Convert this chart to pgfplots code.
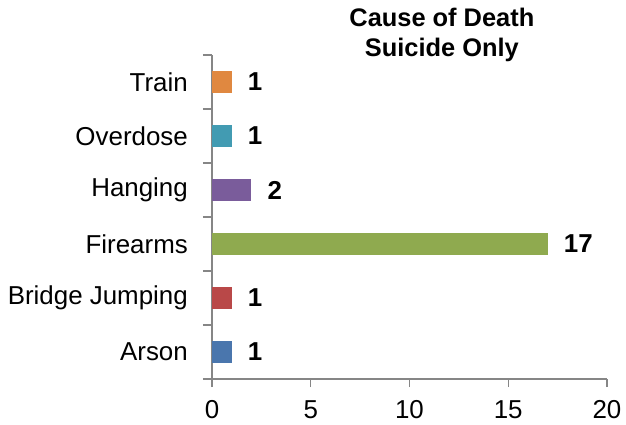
\documentclass[border=0pt]{standalone}
\usepackage{pgfplots}
\pgfplotsset{compat=1.18}
\usepackage{fontspec}
\setmainfont{Liberation Sans}

\definecolor{cArson}{RGB}{74,118,173}
\definecolor{cBridge}{RGB}{185,72,72}
\definecolor{cFire}{RGB}{143,170,79}
\definecolor{cHang}{RGB}{122,92,155}
\definecolor{cOver}{RGB}{66,155,178}
\definecolor{cTrain}{RGB}{224,136,64}
\definecolor{axisgray}{RGB}{134,134,134}

\begin{document}
\begin{tikzpicture}
\begin{axis}[
    at={(0,0)}, anchor=south west,
    scale only axis,
    width=395bp, height=324bp,
    xbar, bar width=21.5bp, bar shift=0pt,
    xmin=0, xmax=20,
    xtick={0,5,10,15,20},
    ymin=-0.5, ymax=5.5,
    ytick={0,1,2,3,4,5},
    yticklabels={Arson,Bridge Jumping,Firearms,Hanging,Overdose,Train},
    minor ytick={-0.5,0.5,1.5,2.5,3.5,4.5,5.5},
    axis x line*=bottom, axis y line*=left,
    axis line style={axisgray, line width=1.5pt, -},
    tick align=outside,
    major tick length=8bp,
    minor tick length=9bp,
    xtick style={axisgray, line width=1.5pt},
    ytick style={draw=none},
    minor y tick style={axisgray, line width=1.5pt, draw=axisgray},
    tick label style={font=\fontsize{26}{30}\selectfont, text=black},
    /pgf/number format/assume math mode=true,
    yticklabel style={inner sep=0pt, xshift=-16bp},
    xticklabel style={inner sep=0pt, yshift=-13bp},
    nodes near coords,
    every node near coord/.append style={font=\bfseries\fontsize{26}{30}\selectfont,
        anchor=west, inner sep=0pt, xshift=16bp, text=black},
    clip=false,
]
\addplot[fill=cArson, draw=none] coordinates {(1,0)};
\addplot[fill=cBridge, draw=none] coordinates {(1,1)};
\addplot[fill=cFire, draw=none] coordinates {(17,2)};
\addplot[fill=cHang, draw=none] coordinates {(2,3)};
\addplot[fill=cOver, draw=none] coordinates {(1,4)};
\addplot[fill=cTrain, draw=none] coordinates {(1,5)};
\node[anchor=base, inner sep=0pt, yshift=-2bp,
      font=\bfseries\fontsize{25.5}{30}\selectfont]
  at (rel axis cs:0.582,1) {Suicide Only};
\node[anchor=base, inner sep=0pt, yshift=28bp,
      font=\bfseries\fontsize{25.5}{30}\selectfont]
  at (rel axis cs:0.582,1) {Cause of Death};
\end{axis}
\useasboundingbox (-212bp,-46bp) rectangle (414bp,379bp);
\end{tikzpicture}
\end{document}
